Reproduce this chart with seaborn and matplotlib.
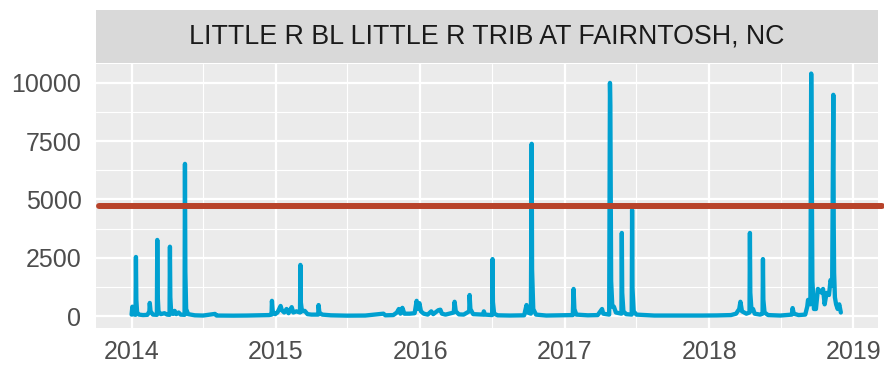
import matplotlib
matplotlib.use("Agg")
import matplotlib.pyplot as plt
import matplotlib.dates as mdates
from matplotlib.ticker import MultipleLocator
import numpy as np
import pandas as pd
import seaborn as sns

# Daily discharge (cfs) at the gauge, one pair of lists per year of record
dates_2014 = ["2014-01-01", "2014-01-03", "2014-01-05", "2014-01-11", "2014-01-12", "2014-01-13",
              "2014-01-15", "2014-01-20", "2014-01-30", "2014-02-10", "2014-02-15", "2014-02-16",
              "2014-02-18", "2014-02-24", "2014-03-06", "2014-03-07", "2014-03-08", "2014-03-10",
              "2014-03-16", "2014-03-25", "2014-04-01", "2014-04-07", "2014-04-08", "2014-04-09",
              "2014-04-11", "2014-04-16", "2014-04-20", "2014-04-24", "2014-04-30", "2014-05-05",
              "2014-05-15", "2014-05-16", "2014-05-17", "2014-05-19", "2014-05-24", "2014-06-10",
              "2014-07-01", "2014-07-31", "2014-08-04", "2014-09-15", "2014-10-20", "2014-11-25",
              "2014-12-15"]
flow_2014 = [60, 400, 80, 50, 2530, 700,
             150, 60, 40, 50, 200, 560,
             200, 60, 50, 3260, 900, 200,
             80, 120, 60, 50, 2970, 800,
             200, 90, 220, 80, 150, 60,
             50, 6520, 1900, 300, 80, 30,
             20, 90, 20, 15, 20, 30,
             40]

dates_2015 = ["2014-12-21", "2014-12-22", "2014-12-24", "2014-12-30", "2015-01-05", "2015-01-13",
              "2015-01-16", "2015-01-22", "2015-01-28", "2015-02-02", "2015-02-10", "2015-02-14",
              "2015-02-22", "2015-03-03", "2015-03-04", "2015-03-05", "2015-03-08", "2015-03-15",
              "2015-03-22", "2015-04-01", "2015-04-18", "2015-04-19", "2015-04-21", "2015-04-28",
              "2015-05-20", "2015-06-30", "2015-08-15", "2015-09-30", "2015-10-05", "2015-10-25",
              "2015-11-03", "2015-11-08", "2015-11-12", "2015-11-17", "2015-11-22", "2015-12-05",
              "2015-12-18", "2015-12-23", "2015-12-26", "2015-12-30"]
flow_2015 = [60, 650, 200, 80, 150, 430,
             250, 150, 300, 120, 380, 150,
             200, 150, 2190, 600, 200, 220,
             80, 60, 60, 470, 150, 60,
             30, 15, 20, 100, 30, 40,
             150, 300, 100, 350, 100, 100,
             120, 650, 300, 550]

dates_2016 = ["2016-01-03", "2016-01-10", "2016-01-20", "2016-01-29", "2016-02-03", "2016-02-16",
              "2016-02-21", "2016-02-25", "2016-03-05", "2016-03-26", "2016-03-28", "2016-03-31",
              "2016-04-08", "2016-04-20", "2016-05-04", "2016-05-05", "2016-05-07", "2016-05-14",
              "2016-06-08", "2016-06-10", "2016-06-13", "2016-07-01", "2016-07-02", "2016-07-03",
              "2016-07-06", "2016-07-15", "2016-08-15", "2016-09-20", "2016-09-26", "2016-09-29",
              "2016-10-07", "2016-10-09", "2016-10-10", "2016-10-13", "2016-10-20", "2016-11-15",
              "2016-12-20"]
flow_2016 = [200, 100, 60, 200, 80, 250,
             270, 100, 60, 150, 610, 200,
             70, 60, 200, 900, 300, 80,
             60, 200, 60, 40, 2440, 600,
             100, 30, 20, 30, 470, 150,
             100, 7380, 2000, 300, 60, 20,
             30]

dates_2017 = ["2017-01-21", "2017-01-23", "2017-01-25", "2017-01-30", "2017-02-28", "2017-03-25",
              "2017-04-05", "2017-04-08", "2017-04-23", "2017-04-25", "2017-04-26", "2017-04-28",
              "2017-05-01", "2017-05-05", "2017-05-10", "2017-05-24", "2017-05-25", "2017-05-26",
              "2017-05-29", "2017-06-05", "2017-06-19", "2017-06-20", "2017-06-21", "2017-06-24",
              "2017-07-01", "2017-08-15", "2017-10-15", "2017-12-15"]
flow_2017 = [40, 1160, 300, 60, 30, 40,
             300, 100, 60, 9990, 9000, 1500,
             400, 400, 150, 100, 3560, 1000,
             200, 80, 60, 4550, 1200, 200,
             60, 20, 20, 20]

dates_2018 = ["2018-01-20", "2018-02-25", "2018-03-10", "2018-03-18", "2018-03-21", "2018-03-25",
              "2018-04-05", "2018-04-13", "2018-04-14", "2018-04-15", "2018-04-18", "2018-04-22",
              "2018-04-26", "2018-05-10", "2018-05-16", "2018-05-17", "2018-05-18", "2018-05-21",
              "2018-05-30", "2018-06-30", "2018-07-29", "2018-07-31", "2018-08-03", "2018-08-15",
              "2018-09-01", "2018-09-06", "2018-09-08", "2018-09-14", "2018-09-16", "2018-09-17",
              "2018-09-19", "2018-09-23", "2018-09-28", "2018-10-03", "2018-10-12", "2018-10-16",
              "2018-10-20", "2018-10-25", "2018-10-31", "2018-11-04", "2018-11-08", "2018-11-11",
              "2018-11-12", "2018-11-13", "2018-11-15", "2018-11-18", "2018-11-22", "2018-11-26",
              "2018-11-30"]
flow_2018 = [25, 40, 100, 300, 610, 200,
             100, 150, 3560, 1000, 250, 300,
             100, 60, 100, 2440, 700, 150,
             40, 20, 60, 340, 100, 40,
             60, 400, 690, 500, 10390, 8000,
             1500, 300, 300, 1160, 1000, 1160,
             500, 990, 900, 1540, 1300, 9480,
             4000, 1840, 800, 500, 300, 500,
             150]

# Flood threshold (cfs)
threshold = 4730

station = "LITTLE R BL LITTLE R TRIB AT FAIRNTOSH, NC"
y_ticks = [0, 2500, 5000, 7500, 10000]

df = pd.DataFrame({
    "date": pd.to_datetime(dates_2014 + dates_2015 + dates_2016 + dates_2017 + dates_2018),
    "flow": flow_2014 + flow_2015 + flow_2016 + flow_2017 + flow_2018,
})

sns.set_style("darkgrid", {
    "axes.facecolor": "#EBEBEB",
    "grid.color": "white",
    "axes.edgecolor": "#EBEBEB",
})
plt.rcParams["font.family"] = ["Liberation Sans", "DejaVu Sans"]

W, H = 884, 365
fig = plt.figure(figsize=(W / 100, H / 100), dpi=100)

px = lambda x0, y0, x1, y1: [x0 / W, 1 - y1 / H, (x1 - x0) / W, (y1 - y0) / H]
ax = fig.add_axes(px(96, 64, 878, 328))
strip = fig.add_axes(px(96, 10, 878, 63))

sns.lineplot(data=df, x="date", y="flow", ax=ax, color="#00A0D0", linewidth=3.1,
             estimator=None, sort=True, zorder=3,
             solid_capstyle="round", solid_joinstyle="round")
ax.axhline(threshold, xmin=0.004, xmax=1.005, color="#B8432A", linewidth=4.3,
           zorder=4, clip_on=False)

ax.set_xlim(pd.Timestamp("2013-10-03"), pd.Timestamp("2019-03-04"))
ax.set_ylim(-514, 10800)

ax.xaxis.set_major_locator(mdates.YearLocator())
ax.xaxis.set_major_formatter(mdates.DateFormatter("%Y"))
ax.xaxis.set_minor_locator(mdates.MonthLocator(bymonth=7))
ax.set_yticks(y_ticks)
ax.yaxis.set_minor_locator(MultipleLocator(1250))
ax.set_yticklabels([str(v) for v in y_ticks])

ax.grid(which="major", color="white", linewidth=1.6)
ax.grid(which="minor", color="white", linewidth=0.8)
ax.tick_params(which="major", length=6, width=2, color="#333333",
               labelsize=18, labelcolor="#4D4D4D", pad=4.5)
ax.tick_params(which="minor", length=0)
ax.tick_params(axis="x", pad=2.5)
for s in ax.spines.values():
    s.set_visible(False)
ax.set_xlabel("")
ax.set_ylabel("")

strip.set_facecolor("#D9D9D9")
strip.set_xticks([])
strip.set_yticks([])
strip.grid(False)
for s in strip.spines.values():
    s.set_visible(False)
strip.text(0.5, 0.5, station, ha="center", va="center", fontsize=19.3,
           color="#1A1A1A", transform=strip.transAxes)

fig.savefig("out.png", dpi=100, facecolor="white")
